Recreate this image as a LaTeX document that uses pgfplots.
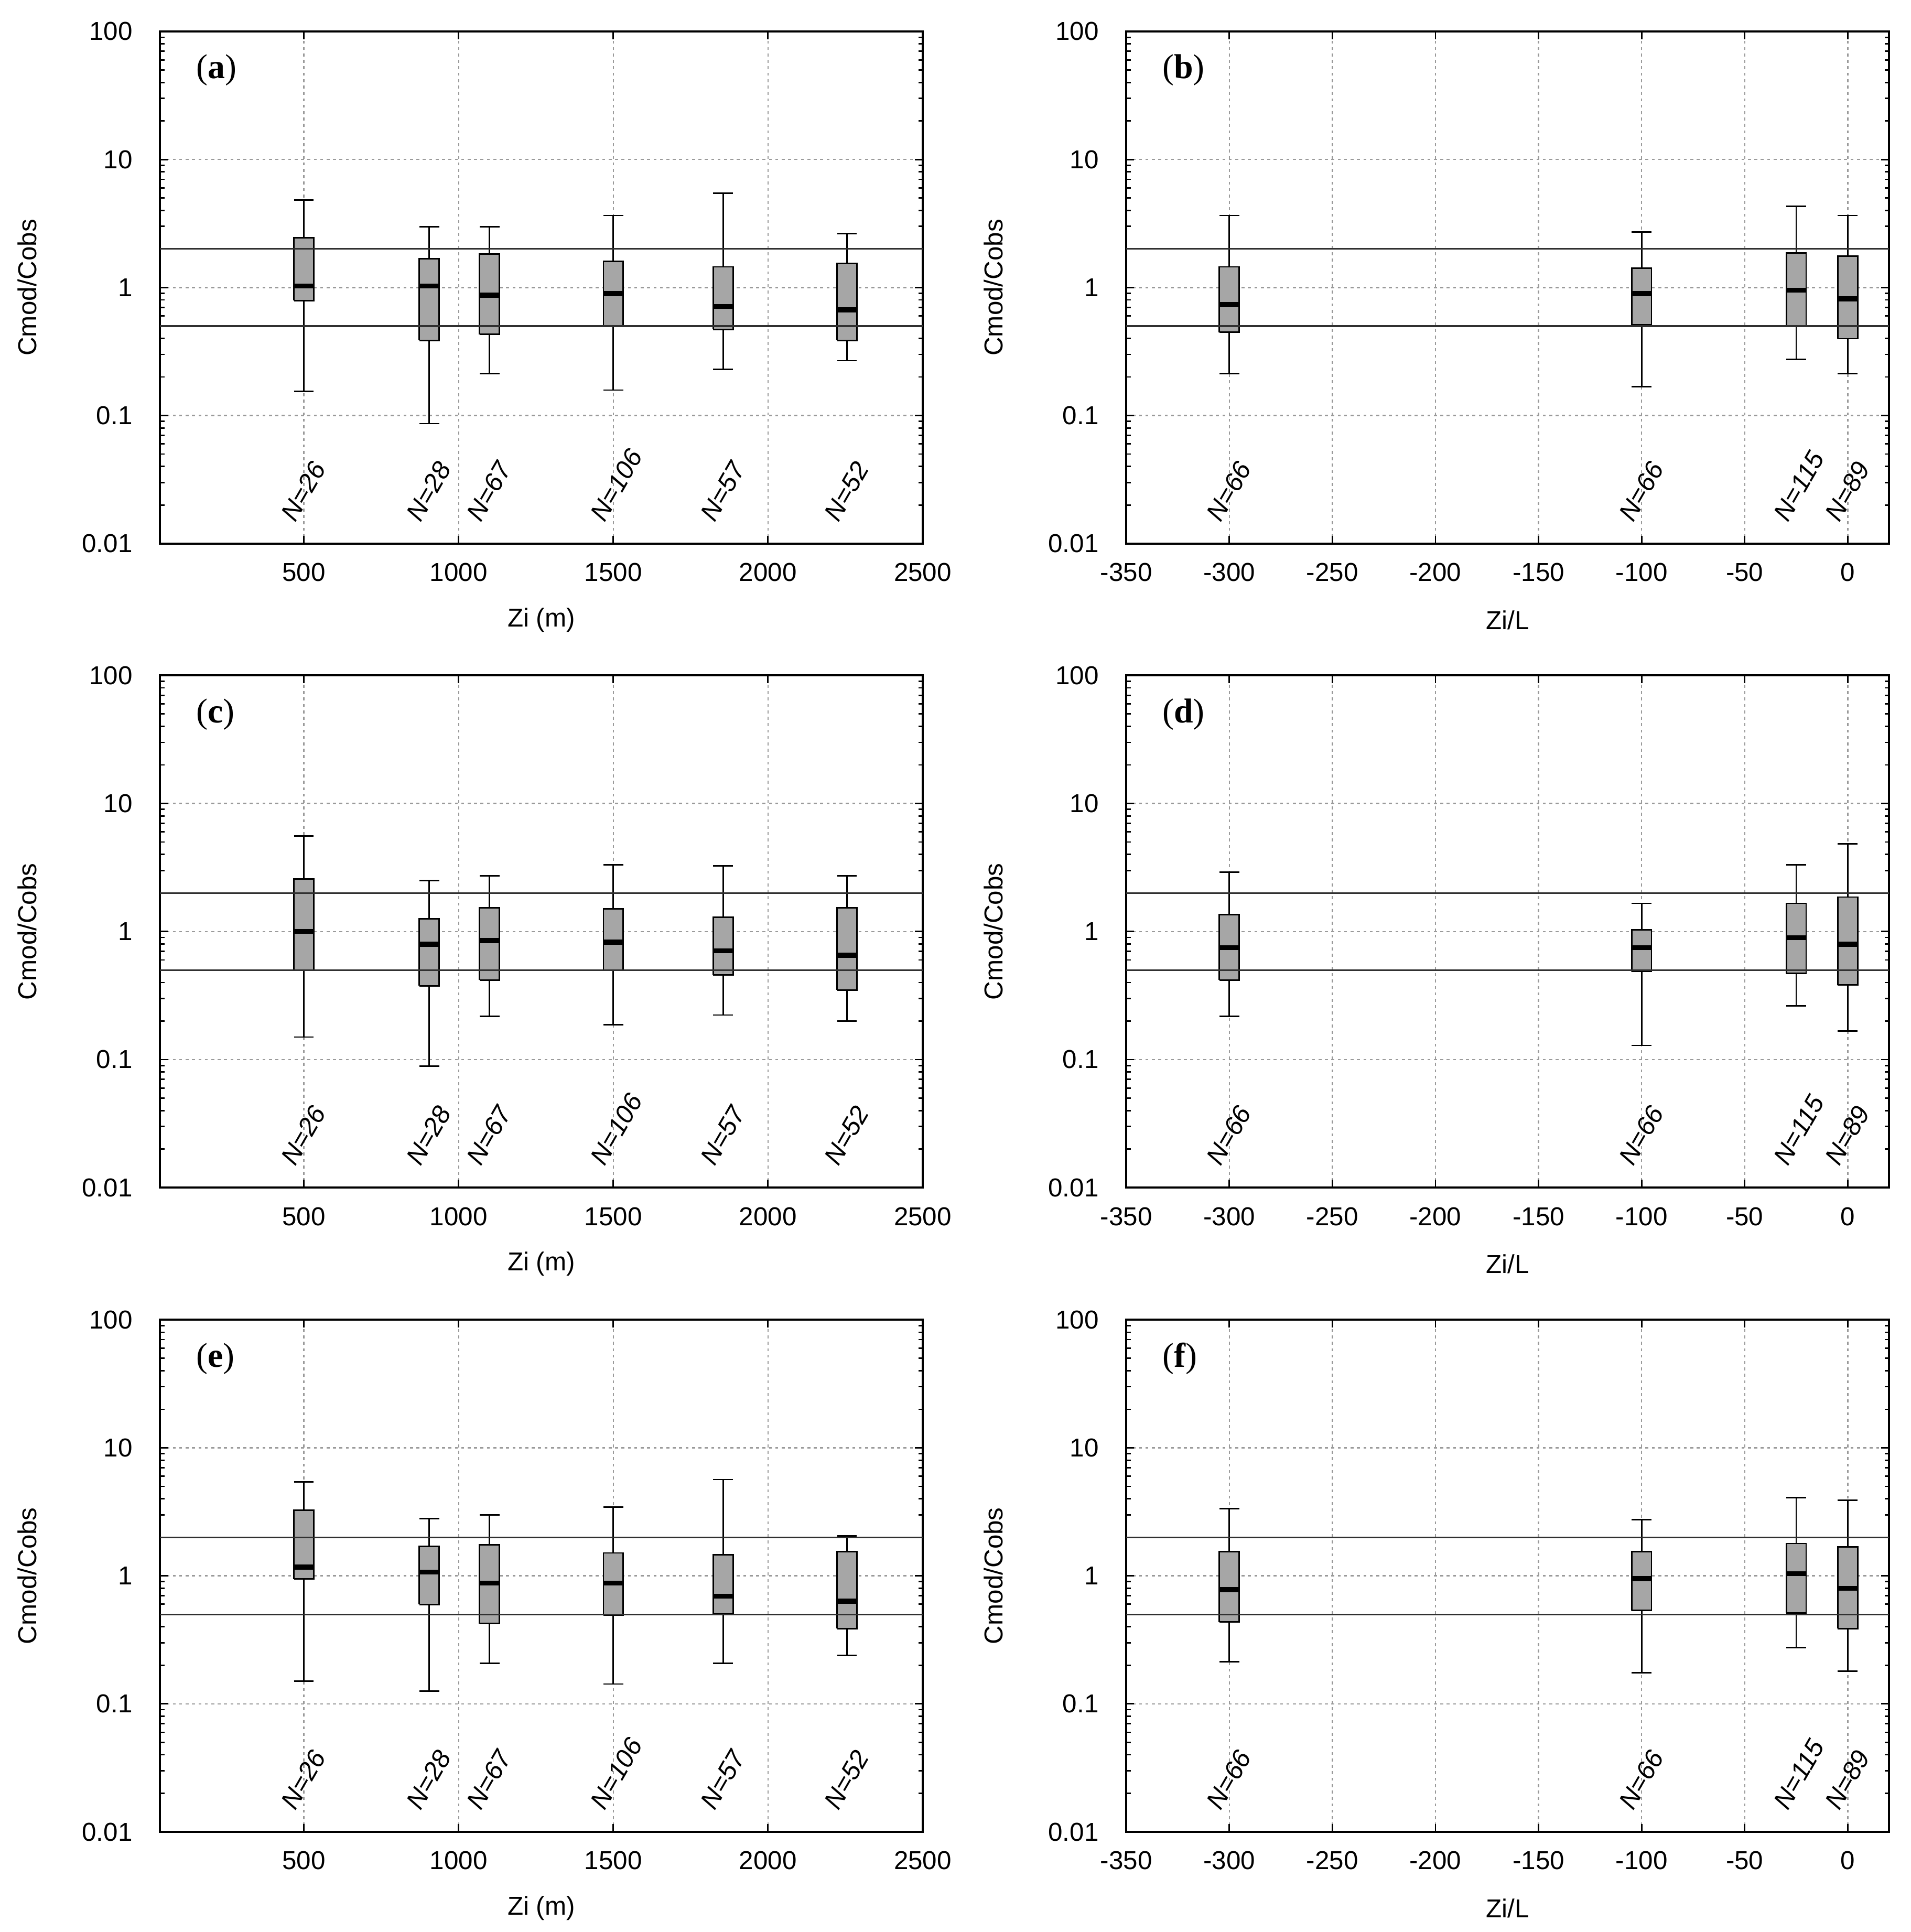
\documentclass[border=0pt]{standalone}
\usepackage{fontspec}
\setmainfont{Liberation Sans}
\newfontfamily\serifpanel{Liberation Serif}
\usepackage{pgfplots}
\pgfplotsset{compat=1.18}
\definecolor{boxgray}{HTML}{A6A6A6}
\definecolor{gridgray}{HTML}{9A9A9A}
\definecolor{refline}{HTML}{303030}
\newcommand{\lab}{\fontsize{10.5}{12.6}\selectfont}

\pgfplotsset{
  scale only axis, width=309.4pt, height=207.75pt,
  ymin=0.01, ymax=100,
  tick align=inside, tick pos=both,
  major tick length=3.2pt, minor tick length=1.8pt,
  tick style={black, line width=0.6pt},
  axis line style={black, line width=0.8pt},
  xmajorgrids, ymajorgrids,
  major grid style={gridgray, line width=0.5pt, dash pattern=on 1.2pt off 1.4pt},
  tick label style={font=\lab},
  yticklabel style={anchor=east, inner sep=0pt, xshift=-11pt},
  xticklabel style={anchor=north, inner sep=0pt, yshift=-7.75pt},
  ylabel={Cmod/Cobs},
  ylabel style={at={([xshift=-53.9pt]axis description cs:0,0.5)}, anchor=center, font=\lab, inner sep=0pt},
  xlabel style={at={([yshift=-31pt]axis description cs:0.5,0)}, anchor=center, font=\lab, inner sep=0pt},
}

% box: position, lower whisker, lower quartile, median, upper quartile, upper whisker, width
\newcommand{\bx}[7]{%
  \pgfmathsetmacro\xa{#1-0.5*#7}\pgfmathsetmacro\xb{#1+0.5*#7}%
  \addplot[black, line width=0.6pt] coordinates {(#1,#2) (#1,#3)};
  \addplot[black, line width=0.6pt] coordinates {(#1,#5) (#1,#6)};
  \addplot[black, line width=0.6pt] coordinates {(\xa,#2) (\xb,#2)};
  \addplot[black, line width=0.6pt] coordinates {(\xa,#6) (\xb,#6)};
  \addplot[draw=black, fill=boxgray, line width=0.6pt] coordinates {(\xa,#3) (\xb,#3) (\xb,#5) (\xa,#5) (\xa,#3)};
  \addplot[black, line width=2pt] coordinates {(\xa,#4) (\xb,#4)};
}
\newcommand{\nlab}[2]{\node[rotate=60, anchor=base west, inner sep=0pt, font=\lab\itshape]
  at ([xshift=-3.5pt]axis cs:#1,0.0144) {N=#2};}
\newcommand{\plab}[1]{\node[anchor=west, inner sep=0pt, font=\serifpanel\fontsize{14}{16}\selectfont]
  at ([xshift=14.5pt,yshift=-15.75pt]rel axis cs:0,1) {(\textbf{#1})};}
\newcommand{\refZi}{\addplot[refline, line width=0.7pt] coordinates {(35,2) (2500,2)};
  \addplot[refline, line width=0.7pt] coordinates {(35,0.5) (2500,0.5)};}
\newcommand{\refL}{\addplot[refline, line width=0.7pt] coordinates {(-350,2) (20,2)};
  \addplot[refline, line width=0.7pt] coordinates {(-350,0.5) (20,0.5)};}
\newcommand{\NZi}{\nlab{500}{26}\nlab{905}{28}\nlab{1100}{67}\nlab{1500}{106}\nlab{1855}{57}\nlab{2255}{52}}
\newcommand{\NL}{\nlab{-300}{66}\nlab{-100}{66}\nlab{-25}{115}\nlab{0}{89}}

\begin{document}
\begin{tikzpicture}
\useasboundingbox (0,0) rectangle (775pt,783.7pt);

% (a)
\begin{axis}[ymode=log, ytick={0.01,0.1,1,10,100}, yticklabels={0.01,0.1,1,10,100},
    minor ytick={0.02,0.03,0.04,0.05,0.06,0.07,0.08,0.09,0.2,0.3,0.4,0.5,0.6,0.7,0.8,0.9,2,3,4,5,6,7,8,9,20,30,40,50,60,70,80,90},
    xmin=35, xmax=2500, xtick={500,1000,1500,2000,2500},
    xticklabels={500,1000,1500,2000,2500}, xlabel={Zi (m)},
    at={(64.9pt,563.2pt)}, anchor=south west]
\bx{500}{0.154}{0.79}{1.03}{2.44}{4.82}{64}
\bx{905}{0.0864}{0.386}{1.03}{1.68}{2.97}{64}
\bx{1100}{0.212}{0.43}{0.87}{1.82}{2.97}{64}
\bx{1500}{0.158}{0.50}{0.896}{1.60}{3.65}{64}
\bx{1855}{0.23}{0.47}{0.71}{1.45}{5.45}{64}
\bx{2255}{0.268}{0.386}{0.67}{1.54}{2.64}{64}
\refZi
\NZi
\plab{a}
\end{axis}

% (b)
\begin{axis}[ymode=log, ytick={0.01,0.1,1,10,100}, yticklabels={0.01,0.1,1,10,100},
    minor ytick={0.02,0.03,0.04,0.05,0.06,0.07,0.08,0.09,0.2,0.3,0.4,0.5,0.6,0.7,0.8,0.9,2,3,4,5,6,7,8,9,20,30,40,50,60,70,80,90},
    xmin=-350, xmax=20, xtick={-350,-300,-250,-200,-150,-100,-50,0},
    xticklabels={-350,-300,-250,-200,-150,-100,-50,0}, xlabel={Zi/L},
    at={(456.85pt,563.2pt)}, anchor=south west]
\bx{-300}{0.212}{0.448}{0.736}{1.45}{3.65}{9.6}
\bx{-100}{0.168}{0.51}{0.896}{1.41}{2.72}{9.6}
\bx{-25}{0.274}{0.50}{0.95}{1.86}{4.31}{9.6}
\bx{0}{0.212}{0.398}{0.815}{1.76}{3.65}{9.6}
\refL
\NL
\plab{b}
\end{axis}

% (c)
\begin{axis}[ymode=log, ytick={0.01,0.1,1,10,100}, yticklabels={0.01,0.1,1,10,100},
    minor ytick={0.02,0.03,0.04,0.05,0.06,0.07,0.08,0.09,0.2,0.3,0.4,0.5,0.6,0.7,0.8,0.9,2,3,4,5,6,7,8,9,20,30,40,50,60,70,80,90},
    xmin=35, xmax=2500, xtick={500,1000,1500,2000,2500},
    xticklabels={500,1000,1500,2000,2500}, xlabel={Zi (m)},
    at={(64.9pt,301.95pt)}, anchor=south west]
\bx{500}{0.15}{0.50}{1.0}{2.57}{5.59}{64}
\bx{905}{0.0887}{0.377}{0.796}{1.26}{2.50}{64}
\bx{1100}{0.217}{0.418}{0.85}{1.53}{2.73}{64}
\bx{1500}{0.187}{0.50}{0.825}{1.50}{3.33}{64}
\bx{1855}{0.223}{0.457}{0.707}{1.29}{3.26}{64}
\bx{2255}{0.20}{0.35}{0.652}{1.53}{2.73}{64}
\refZi
\NZi
\plab{c}
\end{axis}

% (d)
\begin{axis}[ymode=log, ytick={0.01,0.1,1,10,100}, yticklabels={0.01,0.1,1,10,100},
    minor ytick={0.02,0.03,0.04,0.05,0.06,0.07,0.08,0.09,0.2,0.3,0.4,0.5,0.6,0.7,0.8,0.9,2,3,4,5,6,7,8,9,20,30,40,50,60,70,80,90},
    xmin=-350, xmax=20, xtick={-350,-300,-250,-200,-150,-100,-50,0},
    xticklabels={-350,-300,-250,-200,-150,-100,-50,0}, xlabel={Zi/L},
    at={(456.85pt,301.95pt)}, anchor=south west]
\bx{-300}{0.217}{0.418}{0.75}{1.36}{2.92}{9.6}
\bx{-100}{0.129}{0.489}{0.75}{1.03}{1.66}{9.6}
\bx{-25}{0.263}{0.471}{0.895}{1.66}{3.33}{9.6}
\bx{0}{0.167}{0.383}{0.796}{1.86}{4.86}{9.6}
\refL
\NL
\plab{d}
\end{axis}

% (e)
\begin{axis}[ymode=log, ytick={0.01,0.1,1,10,100}, yticklabels={0.01,0.1,1,10,100},
    minor ytick={0.02,0.03,0.04,0.05,0.06,0.07,0.08,0.09,0.2,0.3,0.4,0.5,0.6,0.7,0.8,0.9,2,3,4,5,6,7,8,9,20,30,40,50,60,70,80,90},
    xmin=35, xmax=2500, xtick={500,1000,1500,2000,2500},
    xticklabels={500,1000,1500,2000,2500}, xlabel={Zi (m)},
    at={(64.9pt,40.6pt)}, anchor=south west]
\bx{500}{0.15}{0.943}{1.17}{3.26}{5.40}{64}
\bx{905}{0.126}{0.598}{1.07}{1.70}{2.81}{64}
\bx{1100}{0.207}{0.424}{0.877}{1.75}{2.98}{64}
\bx{1500}{0.143}{0.495}{0.877}{1.51}{3.45}{64}
\bx{1855}{0.207}{0.502}{0.693}{1.46}{5.65}{64}
\bx{2255}{0.239}{0.388}{0.635}{1.55}{2.05}{64}
\refZi
\NZi
\plab{e}
\end{axis}

% (f)
\begin{axis}[ymode=log, ytick={0.01,0.1,1,10,100}, yticklabels={0.01,0.1,1,10,100},
    minor ytick={0.02,0.03,0.04,0.05,0.06,0.07,0.08,0.09,0.2,0.3,0.4,0.5,0.6,0.7,0.8,0.9,2,3,4,5,6,7,8,9,20,30,40,50,60,70,80,90},
    xmin=-350, xmax=20, xtick={-350,-300,-250,-200,-150,-100,-50,0},
    xticklabels={-350,-300,-250,-200,-150,-100,-50,0}, xlabel={Zi/L},
    at={(456.85pt,40.6pt)}, anchor=south west]
\bx{-300}{0.214}{0.436}{0.78}{1.54}{3.35}{9.6}
\bx{-100}{0.175}{0.536}{0.95}{1.54}{2.75}{9.6}
\bx{-25}{0.275}{0.513}{1.04}{1.79}{4.09}{9.6}
\bx{0}{0.18}{0.388}{0.80}{1.68}{3.88}{9.6}
\refL
\NL
\plab{f}
\end{axis}
\end{tikzpicture}
\end{document}
